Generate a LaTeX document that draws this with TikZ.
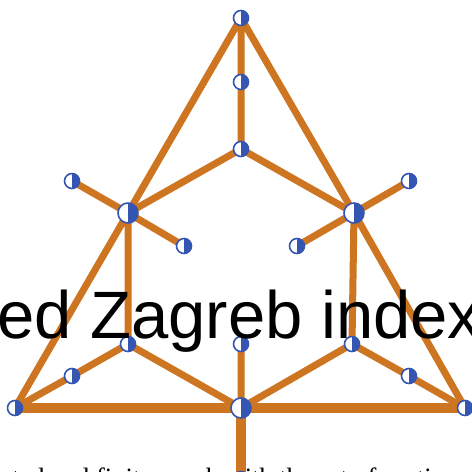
\documentclass[tikz,border=0pt]{standalone}
\usepackage{fontspec}
\setmainfont{Liberation Serif}
\setsansfont{Liberation Sans}
\usetikzlibrary{backgrounds}
\definecolor{edgeorange}{RGB}{206,117,34}
\definecolor{vertblue}{RGB}{52,86,178}

\begin{document}
\begin{tikzpicture}[x=1pt,y=-1pt,
        vertex/.style={circle, draw=vertblue, line width=1.6pt, fill=white, inner sep=0pt, minimum size=15pt,
            path picture={\fill[vertblue] (path picture bounding box.north) rectangle (path picture bounding box.south east);}},
        hub/.style={vertex, minimum size=20pt},
        bond/.style={edgeorange, line width=7pt},
        baseline bond/.style={edgeorange, line width=10pt}]
        % Frame
        \useasboundingbox (0,0) rectangle (472,472);
        \clip (0,0) rectangle (472,472);

        % Upper part
        \node[vertex] (top) at (241,18) {};
        \node[vertex] (mid) at (241,82) {};
        \node[vertex] (ctr) at (241,149) {};
        \node[hub] (lhub) at (128,213) {};
        \node[hub] (rhub) at (354,213) {};
        \node[vertex] (lout) at (72,181) {};
        \node[vertex] (rout) at (409,181) {};
        \node[vertex] (lin) at (184,246) {};
        \node[vertex] (rin) at (297,246) {};

        % Lower part
        \node[vertex] (llow) at (128,344) {};
        \node[vertex] (clow) at (241,344) {};
        \node[vertex] (rlow) at (352,344) {};
        \node[vertex] (lside) at (72,376) {};
        \node[vertex] (rside) at (409,376) {};
        \node[vertex] (lcorner) at (15,408) {};
        \node[hub] (bmid) at (241,408) {};
        \node[vertex] (rcorner) at (465,408) {};
        \node[vertex] (stem) at (241,479) {};

        % Edges
        \begin{pgfonlayer}{background}
            \draw[bond] (top.center) -- (lhub.center) (top.center) -- (rhub.center) (top.center) -- (mid.center) -- (ctr.center);
            \draw[bond] (ctr.center) -- (lhub.center) (ctr.center) -- (rhub.center);
            \draw[bond] (lhub.center) -- (lout.center) (lhub.center) -- (lin.center);
            \draw[bond] (rhub.center) -- (rout.center) (rhub.center) -- (rin.center);
            \draw[bond] (lhub.center) -- (lcorner.center) (lhub.center) -- (llow.center);
            \draw[bond] (rhub.center) -- (rcorner.center) (rhub.center) -- (rlow.center);
            \draw[bond] (llow.center) -- (lside.center) -- (lcorner.center) (rlow.center) -- (rside.center) -- (rcorner.center);
            \draw[bond] (llow.center) -- (bmid.center) (rlow.center) -- (bmid.center) (clow.center) -- (bmid.center);
            \draw[baseline bond] (lcorner.center) -- (bmid.center) -- (rcorner.center);
            \draw[baseline bond] (bmid.center) -- (stem.center);
        \end{pgfonlayer}

        % Title and text line
        \node[anchor=base west, inner sep=0pt, font=\sffamily\fontsize{67}{70}\selectfont] (title) at (-3,338) {ed Zagreb index};
        \node[anchor=base west, inner sep=0pt, font=\fontsize{26.5}{30}\selectfont] (textline) at (12,486) {ted and finite graph with the set of vertices};
\end{tikzpicture}
\end{document}
